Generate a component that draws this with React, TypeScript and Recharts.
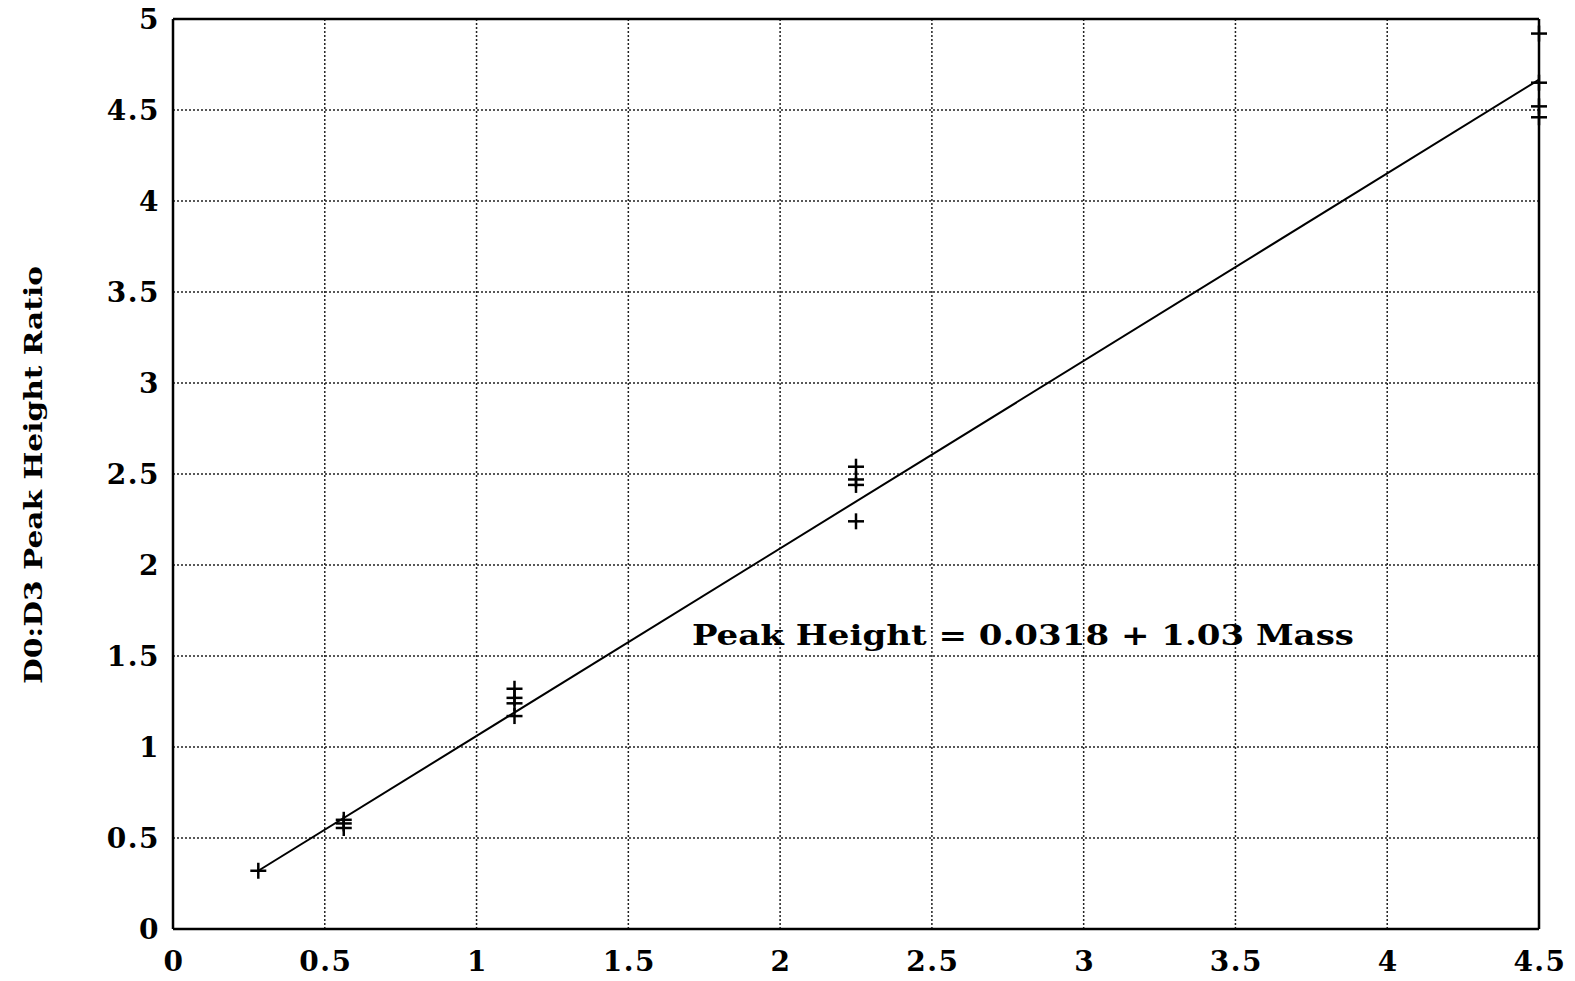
import { ComposedChart, Scatter, XAxis, YAxis, CartesianGrid, ReferenceLine, ReferenceDot } from "recharts";

// concentrations (x) and measured peak height ratios at each level
const massLevels = [0.281, 0.5625, 1.125, 2.25, 4.5];
const ratiosAtLevel = [
  [0.32],
  [0.6, 0.58, 0.555],
  [1.32, 1.27, 1.24, 1.17],
  [2.54, 2.47, 2.44, 2.24],
  [4.92, 4.65, 4.52, 4.46],
];

// fitted line end points
const fitX = [0.281, 4.5];
const fitY = [0.32, 4.667];

const xTicks = [0, 0.5, 1, 1.5, 2, 2.5, 3, 3.5, 4, 4.5];
const yTicks = [0, 0.5, 1, 1.5, 2, 2.5, 3, 3.5, 4, 4.5, 5];

const yTitle = "D0:D3 Peak Height Ratio";
const fitNote = "Peak Height = 0.0318 + 1.03 Mass";

const points = massLevels.flatMap((m, i) => ratiosAtLevel[i].map((r) => ({ x: m, y: r })));
const fitLine = fitX.map((x, i) => ({ x, y: fitY[i] }));

const font = "'DejaVu Serif', serif";
const tickStyle = { fontFamily: font, fontWeight: "bold", fontSize: 28, letterSpacing: 1.5 };

const Plus = (props: any) => {
  const { cx, cy } = props;
  if (cx == null || cy == null) return <g />;
  return (
    <g stroke="#000" strokeWidth={2.5}>
      <line x1={cx - 8} y1={cy} x2={cx + 8} y2={cy} />
      <line x1={cx} y1={cy - 8} x2={cx} y2={cy + 8} />
    </g>
  );
};

const XTick = (props: any) => (
  <text x={props.x + 1} y={props.y + 42} textAnchor="middle" fill="#000" style={tickStyle}>
    {props.payload.value}
  </text>
);

const YTick = (props: any) => (
  <text x={props.x - 13} y={props.y + 10} textAnchor="end" fill="#000" style={tickStyle}>
    {props.payload.value}
  </text>
);

const YTitle = () => (
  <text x={0} y={0} transform="translate(42,475) rotate(-90)" textAnchor="middle" fill="#000"
    textLength={418} lengthAdjust="spacingAndGlyphs"
    style={{ fontFamily: font, fontWeight: "bold", fontSize: 24 }}>
    {yTitle}
  </text>
);

const Note = (props: any) => {
  const vb = props.viewBox || {};
  return (
    <text x={vb.x} y={vb.y + 10} textAnchor="middle" fill="#000"
      textLength={662} lengthAdjust="spacingAndGlyphs"
      style={{ fontFamily: font, fontWeight: "bold", fontSize: 28 }}>
      {fitNote}
    </text>
  );
};

export default function App() {
  return (
    <div style={{ position: "absolute", left: 0, top: 0, background: "#fff" }}>
      <ComposedChart width={1575} height={981} margin={{ top: 19, right: 36, bottom: 0, left: 0 }}>
        <CartesianGrid stroke="#222" strokeWidth={1.5} strokeDasharray="2 2" />
        <XAxis type="number" dataKey="x" domain={[0, 4.5]} ticks={xTicks} height={52}
          tickLine={false} tickSize={0} tickMargin={0} axisLine={{ stroke: "#000", strokeWidth: 2.5 }}
          tick={<XTick />} interval={0} />
        <YAxis type="number" dataKey="y" domain={[0, 5]} ticks={yTicks} width={173}
          tickLine={false} tickSize={0} tickMargin={0} axisLine={{ stroke: "#000", strokeWidth: 2.5 }}
          tick={<YTick />} interval={0} label={YTitle} />
        <ReferenceLine y={5} stroke="#000" strokeWidth={2.5} />
        <ReferenceLine x={4.5} stroke="#000" strokeWidth={2.5} />
        <Scatter data={fitLine} line={{ stroke: "#000", strokeWidth: 2 }} shape={() => <g />}
          isAnimationActive={false} />
        <Scatter data={points} shape={<Plus />} isAnimationActive={false} />
        <ReferenceDot x={2.8} y={1.615} r={0} fill="none" stroke="none" label={Note} />
      </ComposedChart>
    </div>
  );
}
